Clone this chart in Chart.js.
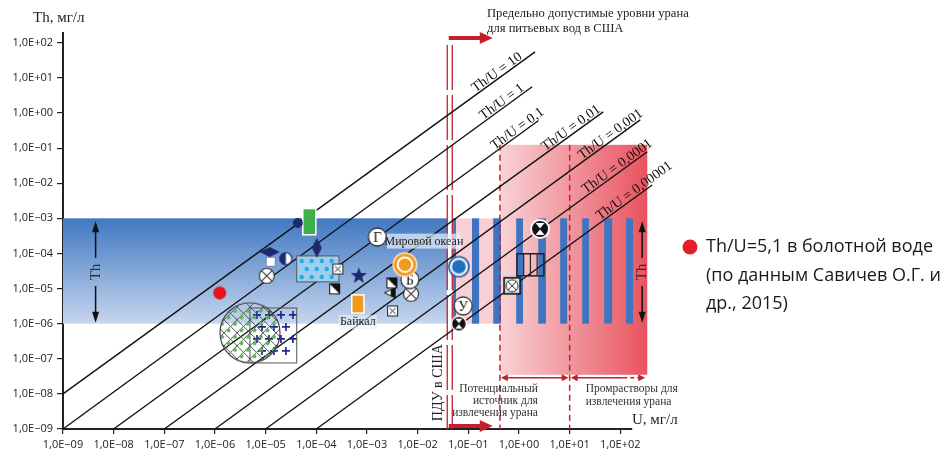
<!DOCTYPE html>
<html lang="ru">
<head>
<meta charset="UTF-8">
<title>Th / U в природных водах</title>
<script src="https://cdn.jsdelivr.net/npm/chart.js"></script>
<style>
  html, body { margin: 0; padding: 0; background: #fff; }
  #wrap { width: 946px; height: 457px; }
</style>
</head>
<body>
<div id="wrap"><canvas id="thuChart" width="946" height="457"></canvas></div>
<script>
// axes (mg/l, log scale)
const xMin = 1e-9, xMax = 170;
const yMin = 1e-9, yMax = 190;
const tickPowers = [-9, -8, -7, -6, -5, -4, -3, -2, -1, 0, 1, 2];

// Th/U reference lines
const ratioLabels = ['Th/U = 10', 'Th/U = 1', 'Th/U = 0,1', 'Th/U = 0,01', 'Th/U = 0,001', 'Th/U = 0,0001', 'Th/U = 0,00001'];
const ratioStartU = [1e-9, 1e-9, 1e-8, 1e-7, 1e-6, 1e-5, 1e-4];
const ratioStartTh = [1e-8, 1e-9, 1e-9, 1e-9, 1e-9, 1e-9, 1e-9];
const ratioEndU = [2.08, 1.82, 2.4, 46, 247, 340, 425];
const ratioEndTh = [55, 5.6, 0.6, 1.08, 0.64, 0.079, 0.0089];
const ratioLabelEndU = [1.26, 1.38, 3.4, 44, 300, 465, 1150];

// zones
const bandU = [1e-9, 0.038];
const bandTh = [1e-6, 1e-3];
const pduU = 0.043;
const pinkU = [0.048, 0.42];
const redZoneU = [0.42, 340];
const redZoneTh = [3.5e-8, 0.124];
const zoneBoundU = [0.42, 10];
const stripeFromU = [0.050, 0.118, 0.31, 0.88, 2.4, 6.5, 17.7, 48, 130];
const stripeToU = [0.057, 0.163, 0.44, 1.2, 3.4, 8.9, 24, 69, 178];

// point markers
const markerU = [4.3e-5, 1.2e-5, 1.26e-5, 2.5e-5, 1.05e-5, 1.02e-4, 2.66e-4, 6.9e-4, 2.3e-4, 1.6e-3,
                 5.6e-3, 7.0e-3, 3.1e-3, 2.8e-3, 7.4e-3, 3.2e-3, 0.065, 0.079, 0.065, 2.6, 0.73, 1.24e-6, 4.9e-6];
const markerTh = [7.4e-4, 1.1e-4, 5.8e-5, 7.1e-5, 2.3e-5, 1.45e-4, 3.6e-5, 2.45e-5, 9.8e-6, 2.95e-4,
                  4.8e-5, 1.8e-5, 1.45e-5, 7.6e-6, 7.1e-6, 2.3e-6, 4.2e-5, 3.2e-6, 1.0e-6, 5.0e-4, 1.2e-5, 7.5e-6, 5.5e-7];
const markerKind = ['navyDot', 'diamondWide', 'whiteSquare', 'halfCircle', 'circleX', 'diamondTall', 'squareX', 'star', 'squareHalf', 'letterG',
                    'orangeRing', 'letterB', 'squareHalf', 'triangleLeft', 'circleX', 'squareX', 'blueRing', 'letterU', 'hourglass', 'hourglassBig', 'squareCircleX', 'redDot', 'hatchedCircle'];

// rectangular ranges
const boxKind = ['plus', 'green', 'dotted', 'orange', 'lined'];
const boxU0 = [4.9e-6, 5.4e-5, 4.1e-5, 5.0e-4, 0.91];
const boxU1 = [4.1e-5, 9.8e-5, 2.8e-4, 8.7e-4, 3.1];
const boxTh0 = [7.6e-8, 3.4e-4, 1.55e-5, 2.0e-6, 2.3e-5];
const boxTh1 = [2.8e-6, 1.9e-3, 8.5e-5, 6.6e-6, 9.8e-5];

const NAVY = '#1f2a6e';
const RED = '#c4202c';
const SERIF = '"Liberation Serif", "DejaVu Serif", serif';

function icon(w, h, draw) {
    const c = document.createElement('canvas');
    c.width = w; c.height = h;
    const g = c.getContext('2d');
    draw(g, w / 2, h / 2);
    return c;
}
function disc(g, x, y, r, fill, stroke, lw) {
    g.beginPath(); g.arc(x, y, r, 0, Math.PI * 2);
    if (fill) { g.fillStyle = fill; g.fill(); }
    if (stroke) { g.strokeStyle = stroke; g.lineWidth = lw || 1; g.stroke(); }
}
function letterIcon(ch) {
    return icon(22, 22, (g, x, y) => {
        disc(g, x, y, 9, '#fff', '#333', 1.3);
        g.fillStyle = '#111';
        g.font = '14px ' + SERIF;
        g.textAlign = 'center'; g.textBaseline = 'middle';
        g.fillText(ch, x, y + 1);
    });
}
function crossIn(g, x, y, r) {
    const d = r * 0.7;
    g.beginPath();
    g.moveTo(x - d, y - d); g.lineTo(x + d, y + d);
    g.moveTo(x + d, y - d); g.lineTo(x - d, y + d);
    g.stroke();
}

const icons = {
    navyDot: icon(12, 12, (g, x, y) => disc(g, x, y, 5, NAVY)),
    redDot: icon(15, 15, (g, x, y) => disc(g, x, y, 6.5, '#e8101a')),
    diamondWide: icon(22, 12, (g, x, y) => {
        g.beginPath(); g.moveTo(1, y); g.lineTo(x, 1); g.lineTo(21, y); g.lineTo(x, 11); g.closePath();
        g.fillStyle = NAVY; g.fill();
    }),
    diamondTall: icon(12, 22, (g, x, y) => {
        g.beginPath(); g.moveTo(x, 1); g.lineTo(11, y); g.lineTo(x, 21); g.lineTo(1, y); g.closePath();
        g.fillStyle = NAVY; g.fill();
    }),
    whiteSquare: icon(12, 12, g => {
        g.fillStyle = '#fff'; g.fillRect(1.5, 1.5, 9, 9);
        g.strokeStyle = '#7d86a8'; g.lineWidth = 1; g.strokeRect(1.5, 1.5, 9, 9);
    }),
    halfCircle: icon(15, 15, (g, x, y) => {
        disc(g, x, y, 6, '#fff');
        g.beginPath(); g.arc(x, y, 6, Math.PI / 2, Math.PI * 1.5); g.closePath(); g.fillStyle = NAVY; g.fill();
        disc(g, x, y, 6, null, NAVY, 1.2);
    }),
    circleX: icon(18, 18, (g, x, y) => {
        disc(g, x, y, 7.5, '#fff', '#333', 1.2);
        g.strokeStyle = '#333'; g.lineWidth = 1.1; crossIn(g, x, y, 7);
    }),
    squareX: icon(13, 13, g => {
        g.fillStyle = '#fff'; g.fillRect(1.5, 1.5, 10, 10);
        g.strokeStyle = '#222'; g.lineWidth = 1; g.strokeRect(1.5, 1.5, 10, 10);
        g.beginPath(); g.moveTo(3.5, 3.5); g.lineTo(9.5, 9.5); g.moveTo(9.5, 3.5); g.lineTo(3.5, 9.5); g.stroke();
    }),
    squareHalf: icon(13, 13, g => {
        g.fillStyle = '#fff'; g.fillRect(1.5, 1.5, 10, 10);
        g.beginPath(); g.moveTo(1.5, 1.5); g.lineTo(11.5, 1.5); g.lineTo(11.5, 11.5); g.closePath();
        g.fillStyle = '#111'; g.fill();
        g.strokeStyle = '#111'; g.lineWidth = 1; g.strokeRect(1.5, 1.5, 10, 10);
    }),
    star: icon(20, 20, (g, x, y) => {
        g.beginPath();
        for (let i = 0; i < 10; i++) {
            const r = i % 2 ? 3.6 : 8.5;
            const a = -Math.PI / 2 + i * Math.PI / 5;
            g.lineTo(x + r * Math.cos(a), y + 1 + r * Math.sin(a));
        }
        g.closePath(); g.fillStyle = NAVY; g.fill();
    }),
    triangleLeft: icon(14, 14, (g, x, y) => {
        g.beginPath(); g.moveTo(1, y); g.lineTo(13, 1); g.lineTo(13, 13); g.closePath();
        g.fillStyle = '#111'; g.fill();
        g.beginPath(); g.moveTo(3, y); g.lineTo(8, 4.5); g.lineTo(8, 9.5); g.closePath();
        g.fillStyle = '#fff'; g.fill();
    }),
    letterG: letterIcon('Г'),
    letterB: letterIcon('Б'),
    letterU: letterIcon('У'),
    orangeRing: icon(28, 28, (g, x, y) => {
        disc(g, x, y, 12.5, '#fbe3c2');
        disc(g, x, y, 11, '#f39a1e');
        disc(g, x, y, 8.3, '#fff');
        disc(g, x, y, 6.3, '#f39a1e');
    }),
    blueRing: icon(24, 24, (g, x, y) => {
        disc(g, x, y, 10, '#e8eef7', '#2f5d98', 1.6);
        disc(g, x, y, 6.8, '#1d6fc4');
    }),
    hourglass: icon(18, 18, (g, x, y) => {
        disc(g, x, y, 7.5, '#111', '#fff', 1.5);
        g.fillStyle = '#fff';
        g.beginPath(); g.moveTo(x - 3.5, y - 5); g.lineTo(x + 3.5, y - 5); g.lineTo(x, y - 0.5); g.closePath(); g.fill();
        g.beginPath(); g.moveTo(x - 3.5, y + 5); g.lineTo(x + 3.5, y + 5); g.lineTo(x, y + 0.5); g.closePath(); g.fill();
    }),
    hourglassBig: icon(22, 22, (g, x, y) => {
        disc(g, x, y, 9, '#111', '#fff', 2);
        g.fillStyle = '#fff';
        g.beginPath(); g.moveTo(x - 4.5, y - 6); g.lineTo(x + 4.5, y - 6); g.lineTo(x, y - 0.5); g.closePath(); g.fill();
        g.beginPath(); g.moveTo(x - 4.5, y + 6); g.lineTo(x + 4.5, y + 6); g.lineTo(x, y + 0.5); g.closePath(); g.fill();
    }),
    squareCircleX: icon(20, 20, (g, x, y) => {
        g.fillStyle = '#dbe6f4'; g.fillRect(2, 2, 16, 16);
        g.strokeStyle = '#111'; g.lineWidth = 1.6; g.strokeRect(2, 2, 16, 16);
        disc(g, x, y, 6, '#fff', '#333', 1);
        g.lineWidth = 1; crossIn(g, x, y, 6);
    }),
    hatchedCircle: icon(64, 64, (g, x, y) => {
        g.save();
        g.beginPath(); g.arc(x, y, 30, 0, Math.PI * 2); g.clip();
        g.strokeStyle = '#555'; g.lineWidth = 1;
        for (let k = -78; k <= 78; k += 13) {
            g.beginPath(); g.moveTo(k, 0); g.lineTo(k + 64, 64); g.stroke();
            g.beginPath(); g.moveTo(k, 64); g.lineTo(k + 64, 0); g.stroke();
        }
        g.fillStyle = '#5db55a';
        for (let a = -78; a <= 78; a += 13) {
            for (let b = -14; b <= 142; b += 13) {
                const px = (a + b) / 2, py = (b - a) / 2;
                if (px > 0 && px < 64 && py > 0 && py < 64) {
                    g.beginPath(); g.arc(px - 2, py + 4, 2, 0, Math.PI * 2); g.fill();
                }
            }
        }
        g.restore();
        disc(g, x, y, 30, null, '#444', 1.2);
    })
};

function fmtPow(e) {
    return '1,0E' + (e < 0 ? '\u2212' : '+') + String(Math.abs(e)).padStart(2, '0');
}

const markerSets = markerU.map((u, i) => {
    const ic = icons[markerKind[i]];
    return {
        type: 'scatter',
        data: [{ x: u, y: markerTh[i] }],
        pointStyle: ic,
        pointRadius: Math.max(ic.width, ic.height) / 2,
        clip: false
    };
});
const lineSets = ratioLabels.map((lab, i) => ({
    type: 'line',
    label: lab,
    data: [{ x: ratioStartU[i], y: ratioStartTh[i] }, { x: ratioEndU[i], y: ratioEndTh[i] }],
    borderColor: '#111',
    borderWidth: 1.4,
    pointRadius: 0,
    clip: false
}));
const firstLineIndex = markerSets.length;

function arrowHead(g, x, y, dir, len, half) {
    g.beginPath();
    g.moveTo(x, y);
    g.lineTo(x - dir * len, y - half);
    g.lineTo(x - dir * len, y + half);
    g.closePath();
    g.fill();
}

const backdrop = {
    id: 'backdrop',
    beforeDatasetsDraw(chart) {
        const g = chart.ctx, X = chart.scales.x, Y = chart.scales.y;
        const px = v => X.getPixelForValue(v), py = v => Y.getPixelForValue(v);
        g.save();
        // blue Th band
        const bTop = py(bandTh[1]), bBot = py(bandTh[0]);
        const grad = g.createLinearGradient(0, bTop, 0, bBot);
        grad.addColorStop(0, '#4178c2');
        grad.addColorStop(1, '#c6d6ee');
        g.fillStyle = grad;
        g.fillRect(px(bandU[0]), bTop, px(bandU[1]) - px(bandU[0]), bBot - bTop);
        // pink between PDU and the red zone
        g.fillStyle = '#f7cfd5';
        g.fillRect(px(pinkU[0]), bTop, px(pinkU[1]) - px(pinkU[0]), bBot - bTop);
        // red zone
        const rl = px(redZoneU[0]), rr = px(redZoneU[1]);
        const rg = g.createLinearGradient(rl, 0, rr, 0);
        rg.addColorStop(0, '#f8d3d6');
        rg.addColorStop(1, '#e9535f');
        g.fillStyle = rg;
        g.fillRect(rl, py(redZoneTh[1]), rr - rl, py(redZoneTh[0]) - py(redZoneTh[1]));
        // blue stripes
        g.fillStyle = '#3f74c0';
        stripeFromU.forEach((u, i) => {
            g.fillRect(px(u), bTop, px(stripeToU[i]) - px(u), bBot - bTop);
        });
        // zone boundaries (dashed)
        g.strokeStyle = RED; g.lineWidth = 1.5; g.setLineDash([6, 4]);
        zoneBoundU.forEach(u => {
            g.beginPath(); g.moveTo(px(u), py(redZoneTh[1])); g.lineTo(px(u), chart.chartArea.bottom); g.stroke();
        });
        // PDU double line
        g.setLineDash([45, 5]); g.lineWidth = 1.3;
        [-2.5, 2.5].forEach(d => {
            g.beginPath(); g.moveTo(px(pduU) + d, chart.chartArea.top + 12); g.lineTo(px(pduU) + d, chart.chartArea.bottom); g.stroke();
        });
        g.setLineDash([]);
        g.restore();
    },
    afterDatasetDraw(chart, args) {
        if (args.index !== firstLineIndex) return;
        const g = chart.ctx, X = chart.scales.x, Y = chart.scales.y;
        g.save();
        boxKind.forEach((k, i) => {
            const x0 = X.getPixelForValue(boxU0[i]), x1 = X.getPixelForValue(boxU1[i]);
            const y0 = Y.getPixelForValue(boxTh1[i]), y1 = Y.getPixelForValue(boxTh0[i]);
            const w = x1 - x0, h = y1 - y0;
            if (k === 'green' || k === 'orange') {
                g.fillStyle = k === 'green' ? '#3bb34a' : '#f39a1e';
                g.fillRect(x0, y0, w, h);
                g.strokeStyle = '#fff'; g.lineWidth = 1.5; g.strokeRect(x0, y0, w, h);
            } else if (k === 'dotted') {
                g.fillStyle = '#9fcdee'; g.fillRect(x0, y0, w, h);
                g.fillStyle = '#22ade6';
                let row = 0;
                for (let yy = y0 + 5; yy < y1 - 2; yy += 8, row++) {
                    for (let xx = x0 + 5 + (row % 2) * 5; xx < x1 - 2; xx += 10) {
                        g.beginPath(); g.arc(xx, yy, 2.2, 0, Math.PI * 2); g.fill();
                    }
                }
                g.strokeStyle = '#555'; g.lineWidth = 1; g.strokeRect(x0, y0, w, h);
            } else if (k === 'lined') {
                g.strokeStyle = '#222'; g.lineWidth = 1.5; g.strokeRect(x0, y0, w, h);
                g.lineWidth = 1.2;
                for (let j = 1; j < 4; j++) {
                    g.beginPath(); g.moveTo(x0 + w * j / 4, y0); g.lineTo(x0 + w * j / 4, y1); g.stroke();
                }
            } else if (k === 'plus') {
                g.strokeStyle = '#1e2a8c'; g.lineWidth = 1.7;
                let row = 0;
                for (let yy = y0 + 7; yy < y1 - 3; yy += 12, row++) {
                    for (let xx = x0 + 7 + (row % 2) * 5; xx < x1 - 3; xx += 12) {
                        g.beginPath(); g.moveTo(xx - 4, yy); g.lineTo(xx + 4, yy);
                        g.moveTo(xx, yy - 4); g.lineTo(xx, yy + 4); g.stroke();
                    }
                }
                g.strokeStyle = '#555'; g.lineWidth = 1; g.strokeRect(x0, y0, w, h);
            }
        });
        g.restore();
    },
    afterDraw(chart) {
        const g = chart.ctx, X = chart.scales.x, Y = chart.scales.y, ca = chart.chartArea;
        const px = v => X.getPixelForValue(v), py = v => Y.getPixelForValue(v);
        g.save();
        // Th/U labels along the lines
        g.fillStyle = '#111';
        g.font = '14px ' + SERIF;
        g.textAlign = 'right'; g.textBaseline = 'alphabetic';
        ratioLabels.forEach((lab, i) => {
            const x0 = px(ratioStartU[i]), y0 = py(ratioStartTh[i]);
            const x1 = px(ratioEndU[i]), y1 = py(ratioEndTh[i]);
            const k = (y1 - y0) / (x1 - x0);
            const lx = px(ratioLabelEndU[i]), ly = y0 + (lx - x0) * k;
            g.save();
            g.translate(lx, ly);
            g.rotate(Math.atan(k));
            g.fillText(lab, 0, -2);
            g.restore();
        });
        // axis titles
        g.textAlign = 'left'; g.textBaseline = 'middle'; g.fillStyle = '#222';
        g.font = '15px ' + SERIF;
        g.fillText('Th, мг/л', 33, 18);
        g.fillText('U, мг/л', ca.right, ca.bottom - 9);
        // note at the top
        g.font = '12.6px ' + SERIF;
        g.fillText('Предельно допустимые уровни урана', 487, 14);
        g.fillText('для питьевых вод в США', 487, 29);
        // red arrows at the PDU line
        g.fillStyle = RED; g.strokeStyle = RED; g.lineWidth = 4;
        [ca.top + 5, ca.bottom - 3].forEach(yy => {
            const xs = px(pduU) - 1;
            g.beginPath(); g.moveTo(xs, yy); g.lineTo(xs + 32, yy); g.stroke();
            arrowHead(g, xs + 44, yy, 1, 13, 6);
        });
        // zone arrows
        g.lineWidth = 1.5;
        const ay = py(2.9e-8);
        const za = [[px(zoneBoundU[0]) + 1, px(zoneBoundU[1]) - 1], [px(zoneBoundU[1]) + 1, px(redZoneU[1]) - 2]];
        za.forEach(([a, b], j) => {
            g.beginPath(); g.moveTo(a + 4, ay);
            if (j === 1) { g.lineTo(b - 22, ay); g.stroke(); g.setLineDash([4, 3]); g.beginPath(); g.moveTo(b - 22, ay); }
            g.lineTo(b - 4, ay); g.stroke(); g.setLineDash([]);
            arrowHead(g, a, ay, -1, 7, 3.5);
            arrowHead(g, b, ay, 1, 7, 3.5);
        });
        // zone texts
        g.fillStyle = '#333'; g.font = '11.5px ' + SERIF; g.textBaseline = 'middle';
        g.textAlign = 'right';
        const tx = px(zoneBoundU[0]) + 38;
        g.fillText('Потенциальный', tx, ay + 11);
        g.fillText('источник для', tx, ay + 23);
        g.fillText('извлечения урана', tx, ay + 35);
        g.textAlign = 'left';
        g.fillText('Промрастворы для', px(zoneBoundU[1]) + 16, ay + 11);
        g.fillText('извлечения урана', px(zoneBoundU[1]) + 16, ay + 24);
        // PDU vertical caption
        g.save();
        g.translate(px(pduU) - 11, py(1.6e-8) - 4);
        g.rotate(-Math.PI / 2);
        g.textAlign = 'center'; g.font = '14px ' + SERIF; g.fillStyle = '#222';
        g.fillText('ПДУ в США', 0, 0);
        g.restore();
        // Th range arrows
        g.strokeStyle = '#111'; g.fillStyle = '#111'; g.lineWidth = 1.5;
        [px(4.4e-9), px(270)].forEach(xx => {
            const t = py(bandTh[1]) + 3, b = py(bandTh[0]) - 1, m = (t + b) / 2;
            g.beginPath(); g.moveTo(xx, t + 8); g.lineTo(xx, m - 14); g.moveTo(xx, m + 14); g.lineTo(xx, b - 8); g.stroke();
            g.beginPath(); g.moveTo(xx, t); g.lineTo(xx - 3.5, t + 11); g.lineTo(xx + 3.5, t + 11); g.closePath(); g.fill();
            g.beginPath(); g.moveTo(xx, b); g.lineTo(xx - 3.5, b - 11); g.lineTo(xx + 3.5, b - 11); g.closePath(); g.fill();
            g.save(); g.translate(xx, m); g.rotate(-Math.PI / 2);
            g.textAlign = 'center'; g.textBaseline = 'middle'; g.font = '15px ' + SERIF; g.fillStyle = '#333';
            g.fillText('Th', 0, 0);
            g.restore();
        });
        // place names
        g.font = '12px ' + SERIF; g.textAlign = 'center'; g.textBaseline = 'middle';
        const ox = px(markerU[10]) + 19, oy = py(markerTh[10]) - 23;
        g.fillStyle = 'rgba(235,240,248,0.7)';
        g.fillRect(ox - 37, oy - 8, 74, 15);
        g.fillStyle = '#222';
        g.fillText('Мировой океан', ox, oy);
        const bx = px(Math.sqrt(boxU0[3] * boxU1[3])), by = py(boxTh0[3]) + 9;
        g.fillStyle = 'rgba(235,240,248,0.6)';
        g.fillRect(bx - 19, by - 7, 38, 14);
        g.fillStyle = '#222';
        g.fillText('Байкал', bx, by);
        // side note
        disc(g, 690, 247, 7.5, '#e41e26');
        g.textAlign = 'left'; g.fillStyle = '#1a1a1a';
        g.font = '18px "Open Sans", "Noto Sans", sans-serif';
        g.fillText('Th/U=5,1 в болотной воде', 706, 247);
        g.fillText('(по данным Савичев О.Г. и', 706, 276);
        g.fillText('др., 2015)', 706, 304);
        g.restore();
    }
};

const tickFont = { family: '"Open Sans", "Liberation Sans", sans-serif', size: 11 };

new Chart(document.getElementById('thuChart'), {
    type: 'scatter',
    data: { datasets: markerSets.concat(lineSets) },
    options: {
        responsive: false,
        animation: false,
        events: [],
        layout: { autoPadding: false, padding: { top: 33, right: 314, left: 0, bottom: 0 } },
        plugins: { legend: { display: false }, tooltip: { enabled: false } },
        scales: {
            x: {
                type: 'logarithmic', min: xMin, max: xMax,
                afterBuildTicks: s => { s.ticks = tickPowers.map(p => ({ value: Math.pow(10, p) })); },
                afterFit: s => { s.height = 28; },
                ticks: { callback: v => fmtPow(Math.round(Math.log10(v))), font: tickFont, color: '#222', padding: 4, maxRotation: 0, autoSkip: false },
                grid: { drawOnChartArea: false, drawTicks: true, tickLength: 5, color: '#222', lineWidth: 1.2 },
                border: { display: true, color: '#222', width: 2 }
            },
            y: {
                type: 'logarithmic', min: yMin, max: yMax,
                afterBuildTicks: s => { s.ticks = tickPowers.map(p => ({ value: Math.pow(10, p) })); },
                afterFit: s => { s.width = 63; },
                ticks: { callback: v => fmtPow(Math.round(Math.log10(v))), font: tickFont, color: '#222', padding: 4, autoSkip: false },
                grid: { drawOnChartArea: false, drawTicks: true, tickLength: 6, color: '#222', lineWidth: 1.2 },
                border: { display: true, color: '#222', width: 2 }
            }
        }
    },
    plugins: [backdrop]
});
</script>
</body>
</html>
